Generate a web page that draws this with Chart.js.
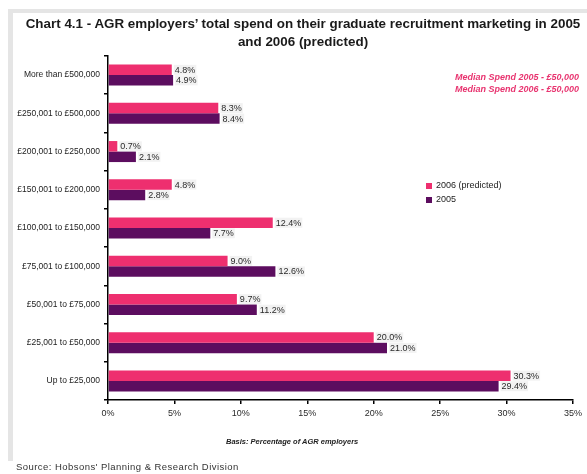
<!DOCTYPE html>
<html>
<head>
<meta charset="utf-8">
<script src="https://cdn.jsdelivr.net/npm/chart.js@4/dist/chart.umd.min.js"></script>
<style>
  html, body { margin: 0; padding: 0; background: #fff; }
  body { width: 587px; height: 474px; position: relative; overflow: hidden;
         font-family: "Liberation Sans", Arial, sans-serif; }
  .frame { position: absolute; background: #e5e5e5; }
  #wrap { position: absolute; left: 0; top: 0; width: 587px; height: 474px; }
  .txt { position: absolute; white-space: nowrap; }
  #title { left: 14px; width: 578px; top: 15px; text-align: center; font-weight: bold;
           font-size: 13.4px; line-height: 17.5px; color: #1a1a1a; }
  .median { right: 8px; font-weight: bold; font-style: italic; font-size: 9px; color: #e8336f; }
  .leg { font-size: 9px; color: #222; }
  .sw { position: absolute; width: 6px; height: 6px; }
  #basis { left: 226px; top: 437px; font-weight: bold; font-style: italic; font-size: 7.5px; color: #222; }
  #source { left: 16px; top: 461px; font-size: 9.5px; letter-spacing: 0.45px; color: #333; }
</style>
</head>
<body>
<div class="frame" style="left:8px;top:9px;width:579px;height:4px;"></div>
<div class="frame" style="left:8px;top:9px;width:5px;height:452px;"></div>

<div id="wrap"><canvas id="chart" width="587" height="474"></canvas></div>

<div id="title" class="txt">Chart 4.1 - AGR employers’ total spend on their graduate recruitment marketing in 2005<br>and 2006 (predicted)</div>
<div class="txt median" style="top:72px;">Median Spend 2005 - £50,000</div>
<div class="txt median" style="top:84px;">Median Spend 2006 - £50,000</div>

<div class="sw" style="left:426px;top:183px;background:#ee2f6f;"></div>
<div class="txt leg" style="left:436px;top:180px;">2006 (predicted)</div>
<div class="sw" style="left:426px;top:197px;background:#5c0d5f;"></div>
<div class="txt leg" style="left:436px;top:194px;">2005</div>

<div id="basis" class="txt">Basis: Percentage of AGR employers</div>
<div id="source" class="txt">Source: Hobsons' Planning &amp; Research Division</div>

<script>
// Spend bands, top to bottom
const categories = [
  "More than £500,000",
  "£250,001 to £500,000",
  "£200,001 to £250,000",
  "£150,001 to £200,000",
  "£100,001 to £150,000",
  "£75,001 to £100,000",
  "£50,001 to £75,000",
  "£25,001 to £50,000",
  "Up to £25,000"
];
// Percentage of AGR employers in each band
const spend2006 = [4.8, 8.3, 0.7, 4.8, 12.4, 9.0, 9.7, 20.0, 30.3];
const spend2005 = [4.9, 8.4, 2.1, 2.8, 7.7, 12.6, 11.2, 21.0, 29.4];
const seriesNames = ["2006 (predicted)", "2005"];
const xTicks = [0, 5, 10, 15, 20, 25, 30, 35];

const PINK = "#ee2f6f";
const PURPLE = "#5c0d5f";

// Writes each bar's percentage just past its end
const valueLabels = {
  id: "valueLabels",
  afterDatasetsDraw(chart) {
    const ctx = chart.ctx;
    ctx.save();
    ctx.font = "9px 'Liberation Sans', Arial, sans-serif";
    ctx.textBaseline = "middle";
    ctx.textAlign = "left";
    chart.data.datasets.forEach((ds, di) => {
      chart.getDatasetMeta(di).data.forEach((bar, i) => {
        const txt = ds.data[i].toFixed(1) + "%";
        const x = bar.x + 3;
        const w = ctx.measureText(txt).width;
        ctx.fillStyle = "rgba(232,232,232,0.55)";
        ctx.fillRect(x - 1, bar.y - 5, w + 2, 10);
        ctx.fillStyle = "#2a2a2a";
        ctx.fillText(txt, x, bar.y + 0.5);
      });
    });
    ctx.restore();
  }
};

new Chart(document.getElementById("chart"), {
  type: "bar",
  data: {
    labels: categories,
    datasets: [
      { label: seriesNames[0], data: spend2006, backgroundColor: PINK },
      { label: seriesNames[1], data: spend2005, backgroundColor: PURPLE }
    ]
  },
  options: {
    indexAxis: "y",
    responsive: false,
    animation: false,
    devicePixelRatio: 1,
    layout: { padding: { left: 8, right: 14, top: 56, bottom: 0 } },
    datasets: { bar: { categoryPercentage: 0.55, barPercentage: 1.0 } },
    plugins: { legend: { display: false }, tooltip: { enabled: false } },
    scales: {
      x: {
        min: 0, max: 35,
        afterBuildTicks(scale) { scale.ticks = xTicks.map(v => ({ value: v })); },
        afterFit(scale) { scale.height = 74; },
        grid: { drawOnChartArea: false, drawTicks: true, tickLength: 4, color: "#000", lineWidth: 1.5 },
        border: { display: true, color: "#000", width: 1.5 },
        ticks: {
          padding: 4,
          color: "#2a2a2a",
          font: { size: 9, family: "'Liberation Sans', Arial, sans-serif" },
          callback: v => v + "%"
        }
      },
      y: {
        afterFit(scale) { scale.width = 100; },
        grid: { drawOnChartArea: false, drawTicks: true, tickLength: 4, color: "#000", lineWidth: 1.5, offset: true },
        border: { display: true, color: "#000", width: 1.5 },
        ticks: {
          padding: 4,
          color: "#222",
          font: { size: 8.5, family: "'Liberation Sans', Arial, sans-serif" }
        }
      }
    }
  },
  plugins: [valueLabels]
});
</script>
</body>
</html>
